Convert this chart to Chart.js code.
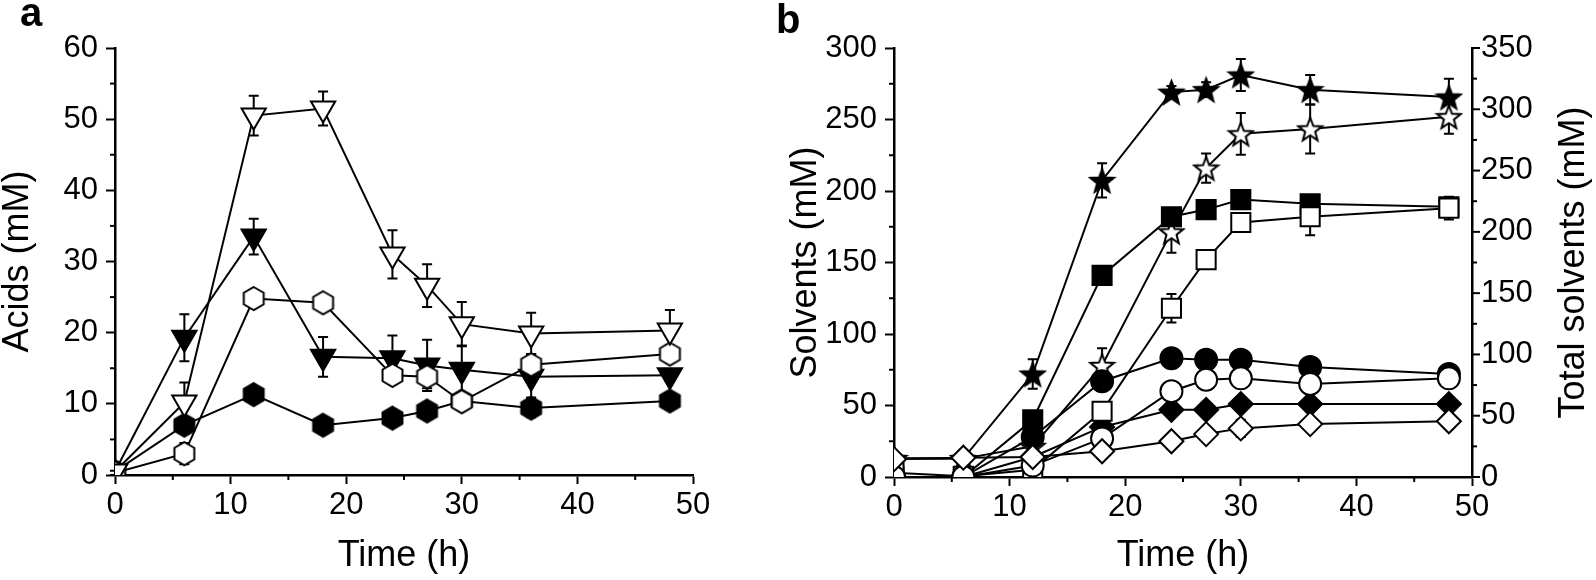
<!DOCTYPE html>
<html>
<head>
<meta charset="utf-8">
<script src="https://cdn.jsdelivr.net/npm/chart.js@4.4.1/dist/chart.umd.min.js"></script>
<style>
html, body { margin: 0; padding: 0; background: #fff; }
#wrap { position: relative; width: 1596px; height: 580px; overflow: hidden; }
.panel { position: absolute; top: 0; height: 580px; }
#pa { left: 0; width: 740px; }
#pb { left: 760px; width: 836px; }
.tag { position: absolute; font: bold 40px 'Liberation Sans', Arial, sans-serif; line-height: 1; color: #000; }
</style>
</head>
<body>
<div id="wrap">
  <div class="panel" id="pa"><canvas id="chartA" width="740" height="580"></canvas></div>
  <div class="panel" id="pb"><canvas id="chartB" width="836" height="580"></canvas></div>
  <div class="tag" style="left:20px; top:-8px">a</div>
  <div class="tag" style="left:776px; top:-1px">b</div>
</div>
<script>
// Data
const timeH = [0, 6, 12, 18, 24, 27, 30, 36, 48];

// panel a - acids (mM)
const acidTriOpen      = [0.5, 10.2, 50.5, 51.5, 31.0, 26.6, 21.2, 19.9, 20.3];
const acidTriOpenErr   = [0, 2.8, 2.8, 2.4, 3.4, 3.0, 3.1, 2.9, 2.9];
const acidTriFilled    = [0.5, 19.3, 33.5, 16.6, 16.4, 15.4, 14.8, 13.8, 14.0];
const acidTriFilledErr = [0, 3.3, 2.5, 2.8, 3.2, 3.6, 3.4, 2.9, 0.8];
const acidHexOpen      = [0.3, 3.0, 24.8, 24.2, 14.0, 13.8, 10.3, 15.5, 17.0];
const acidHexOpenErr   = [0.3, 1.5, 1.0, 1.0, 1.2, 1.6, 1.2, 1.5, 1.2];
const acidHexFilled    = [0.5, 7.0, 11.3, 7.0, 8.0, 9.0, 10.4, 9.4, 10.4];
const acidHexFilledErr = [0, 1.0, 1.0, 0.6, 0.8, 0.8, 0.8, 1.3, 0.8];

// panel b - solvents (mM), left axis
const solvSqFilled     = [0, 0, 40, 141, 182, 187, 194, 191, 189];
const solvSqFilledErr  = [0, 0, 5, 4, 4, 3, 4, 3, 3];
const solvSqOpen       = [3, 0.5, 5, 46, 118, 152, 178, 182, 188];
const solvSqOpenErr    = [0, 0, 3, 4, 10, 3, 5, 13, 8];
const solvCircFilled   = [0, 0, 28, 67, 83, 82, 82, 77, 72];
const solvCircFilledErr= [0, 0, 3, 4, 3, 4, 5, 4, 3];
const solvCircOpen     = [0, 0, 8, 27, 60, 68, 69, 65, 69];
const solvCircOpenErr  = [0, 0, 2, 3, 4, 4, 3, 3, 3];
const solvDiaFilled    = [0, 0, 14, 35, 47, 47, 51, 51, 51];
const solvDiaFilledErr = [0, 0, 3, 3, 3, 3, 3, 3, 2];
const solvDiaOpen      = [12.5, 13.5, 14, 18, 25, 30, 34, 37, 39];
const solvDiaOpenErr   = [0, 0, 4, 4, 5, 5, 6, 5, 5];
// total solvents (mM), right axis
const totalStarFilled    = [15, 15, 84, 242, 314, 316, 328, 316, 310];
const totalStarFilledErr = [0, 0, 12, 14, 5, 6, 13, 12, 15];
const totalStarOpen      = [15, 15, 25, 91, 200, 252, 280, 284, 294];
const totalStarOpenErr   = [0, 0, 5, 14, 17, 12, 17, 20, 14];

// axis ticks
const xMinor = [5, 15, 25, 35, 45];
const acidMinor = [5, 15, 25, 35, 45, 55];
const solvMinor = [25, 75, 125, 175, 225, 275];
const totalMajor = [0, 50, 100, 150, 200, 250, 300, 350];
const totalMinor = [25, 75, 125, 175, 225, 275, 325];

const FONT = "'Liberation Sans', Arial, Helvetica, sans-serif";
Chart.defaults.font.family = FONT;
Chart.defaults.color = '#000';

// custom marker shapes
function shapeCanvas(kind, r, filled) {
    const s = Math.ceil(2 * r + 4);
    const c = document.createElement('canvas');
    c.width = s; c.height = s;
    const g = c.getContext('2d');
    const cx = s / 2, cy = s / 2;
    g.beginPath();
    if (kind === 'hex') {
        for (let i = 0; i < 6; i++) {
            const a = -Math.PI / 2 + i * Math.PI / 3;
            g.lineTo(cx + r * Math.cos(a), cy + r * Math.sin(a));
        }
    } else {
        for (let i = 0; i < 10; i++) {
            const rr = i % 2 ? r * 0.42 : r;
            const a = -Math.PI / 2 + i * Math.PI / 5;
            g.lineTo(cx + rr * Math.cos(a), cy + rr * Math.sin(a) + r * 0.1);
        }
    }
    g.closePath();
    g.fillStyle = filled ? '#000' : '#fff';
    g.fill();
    g.lineWidth = 2;
    g.strokeStyle = '#000';
    g.stroke();
    return c;
}

const pts = vals => timeH.map((t, i) => ({ x: t, y: vals[i] }));

function series(label, vals, errs, marker, filled, extra) {
    return Object.assign({
        label,
        data: pts(vals),
        errors: errs,
        borderColor: '#000',
        borderWidth: 2,
        pointBorderColor: '#000',
        pointBorderWidth: 2,
        pointBackgroundColor: filled ? '#000' : '#fff',
        pointStyle: marker,
        fill: false,
        tension: 0,
        clip: 0
    }, extra || {});
}

// error bars drawn under the markers
const errorBars = {
    id: 'errorBars',
    beforeDatasetsDraw(chart) {
        const ctx = chart.ctx;
        ctx.save();
        ctx.strokeStyle = '#000';
        ctx.lineWidth = 2;
        chart.data.datasets.forEach(ds => {
            if (!ds.errors) return;
            const xs = chart.scales.x, ys = chart.scales[ds.yAxisID || 'y'];
            ds.data.forEach((p, j) => {
                const e = ds.errors[j];
                if (!e) return;
                const x = xs.getPixelForValue(p.x);
                const y1 = ys.getPixelForValue(p.y + e), y2 = ys.getPixelForValue(p.y - e);
                ctx.beginPath();
                ctx.moveTo(x, y1); ctx.lineTo(x, y2);
                ctx.moveTo(x - 5, y1); ctx.lineTo(x + 5, y1);
                ctx.moveTo(x - 5, y2); ctx.lineTo(x + 5, y2);
                ctx.stroke();
            });
        });
        ctx.restore();
    }
};

// minor ticks, and the inward ticks of the right axis
const extraTicks = {
    id: 'extraTicks',
    afterDraw(chart, args, opts) {
        const ctx = chart.ctx;
        ctx.save();
        ctx.strokeStyle = '#000';
        ctx.lineWidth = 2;
        (opts.marks || []).forEach(m => {
            const sc = chart.scales[m.axis];
            m.values.forEach(v => {
                const p = sc.getPixelForValue(v);
                ctx.beginPath();
                if (sc.isHorizontal()) { ctx.moveTo(p, sc.top); ctx.lineTo(p, sc.top + m.len); }
                else if (sc.position === 'left') { ctx.moveTo(sc.right, p); ctx.lineTo(sc.right - m.len, p); }
                else { ctx.moveTo(sc.left, p); ctx.lineTo(sc.left - m.len, p); }
                ctx.stroke();
            });
        });
        ctx.restore();
    }
};

// right-hand title reading bottom to top
const sideTitle = {
    id: 'sideTitle',
    afterDraw(chart, args, opts) {
        if (!opts.text) return;
        const sc = chart.scales[opts.axis];
        const ctx = chart.ctx;
        ctx.save();
        ctx.translate(sc.right - opts.offset, (sc.top + sc.bottom) / 2);
        ctx.rotate(-Math.PI / 2);
        ctx.textAlign = 'center';
        ctx.textBaseline = 'middle';
        ctx.fillStyle = '#000';
        ctx.font = opts.size + 'px ' + FONT;
        ctx.fillText(opts.text, 0, 0);
        ctx.restore();
    }
};

function xAxis(height) {
    return {
        type: 'linear', min: 0, max: 50,
        ticks: { stepSize: 10, color: '#000', font: { size: 31 }, padding: 3 },
        grid: { drawOnChartArea: false, tickLength: 9, tickWidth: 2, tickColor: '#000' },
        border: { color: '#000', width: 2.5 },
        title: { display: true, text: 'Time (h)', color: '#000', font: { size: 36, lineHeight: 1 }, padding: { top: 0, bottom: 6 } },
        afterFit: s => { s.height = height; }
    };
}

function yAxis(max, step, title, width, titlePad) {
    return {
        type: 'linear', position: 'left', min: 0, max: max,
        ticks: { stepSize: step, color: '#000', font: { size: 31 }, padding: 8 },
        grid: { drawOnChartArea: false, tickLength: 9, tickWidth: 2, tickColor: '#000' },
        border: { color: '#000', width: 2.5 },
        title: { display: true, text: title, color: '#000', font: { size: 36, lineHeight: 1 }, padding: { top: titlePad, bottom: 0 } },
        afterFit: s => { s.width = width; }
    };
}

const hexFilled = shapeCanvas('hex', 11.5, true);
const hexOpen = shapeCanvas('hex', 11.5, false);
const starFilled = shapeCanvas('star', 12.5, true);
const starOpen = shapeCanvas('star', 12.5, false);

const tri = { pointRadius: 14, pointRotation: 180 };

window.onload = () => {
    // first dataset is painted on top
    new Chart(document.getElementById('chartA'), {
        type: 'line',
        data: {
            datasets: [
                series('Triangle, open', acidTriOpen, acidTriOpenErr, 'triangle', false, tri),
                series('Hexagon, open', acidHexOpen, acidHexOpenErr, hexOpen, false),
                series('Triangle, filled', acidTriFilled, acidTriFilledErr, 'triangle', true, tri),
                series('Hexagon, filled', acidHexFilled, acidHexFilledErr, hexFilled, true)
            ]
        },
        options: {
            responsive: false,
            animation: false,
            events: [],
            layout: { padding: { top: 48, right: 47, left: 0, bottom: 0 } },
            scales: {
                x: xAxis(105),
                y: yAxis(60, 10, 'Acids (mM)', 115, 0)
            },
            plugins: {
                legend: { display: false },
                tooltip: { enabled: false },
                extraTicks: { marks: [
                    { axis: 'x', values: xMinor, len: 5 },
                    { axis: 'y', values: acidMinor, len: 5 }
                ] }
            }
        },
        plugins: [errorBars, extraTicks]
    });

    const rightAxis = {
        type: 'linear', position: 'right', min: 0, max: 350,
        ticks: { stepSize: 50, color: '#000', font: { size: 31 }, padding: 9 },
        grid: { drawOnChartArea: false, drawTicks: false },
        border: { color: '#000', width: 2.5 },
        title: { display: false },
        afterFit: s => { s.width = 124; }
    };

    new Chart(document.getElementById('chartB'), {
        type: 'line',
        data: {
            datasets: [
                series('Diamond, open', solvDiaOpen, solvDiaOpenErr, 'rectRot', false, { pointRadius: 12 }),
                series('Circle, open', solvCircOpen, solvCircOpenErr, 'circle', false, { pointRadius: 11 }),
                series('Square, open', solvSqOpen, solvSqOpenErr, 'rect', false, { pointRadius: 13.5 }),
                series('Diamond, filled', solvDiaFilled, solvDiaFilledErr, 'rectRot', true, { pointRadius: 12 }),
                series('Circle, filled', solvCircFilled, solvCircFilledErr, 'circle', true, { pointRadius: 11 }),
                series('Square, filled', solvSqFilled, solvSqFilledErr, 'rect', true, { pointRadius: 13.5 }),
                series('Total, open', totalStarOpen, totalStarOpenErr, starOpen, false, { yAxisID: 'y2' }),
                series('Total, filled', totalStarFilled, totalStarFilledErr, starFilled, true, { yAxisID: 'y2' })
            ]
        },
        options: {
            responsive: false,
            animation: false,
            events: [],
            layout: { padding: { top: 48, right: 0, left: 0, bottom: 0 } },
            scales: {
                x: xAxis(103),
                y: yAxis(300, 50, 'Solvents (mM)', 134, 28),
                y2: rightAxis
            },
            plugins: {
                legend: { display: false },
                tooltip: { enabled: false },
                extraTicks: { marks: [
                    { axis: 'x', values: xMinor, len: 5 },
                    { axis: 'y', values: solvMinor, len: 5 },
                    { axis: 'y2', values: totalMajor, len: -8 },
                    { axis: 'y2', values: totalMinor, len: -5 }
                ] },
                sideTitle: { text: 'Total solvents (mM)', axis: 'y2', offset: 22, size: 36 }
            }
        },
        plugins: [errorBars, extraTicks, sideTitle]
    });
};
</script>
</body>
</html>
